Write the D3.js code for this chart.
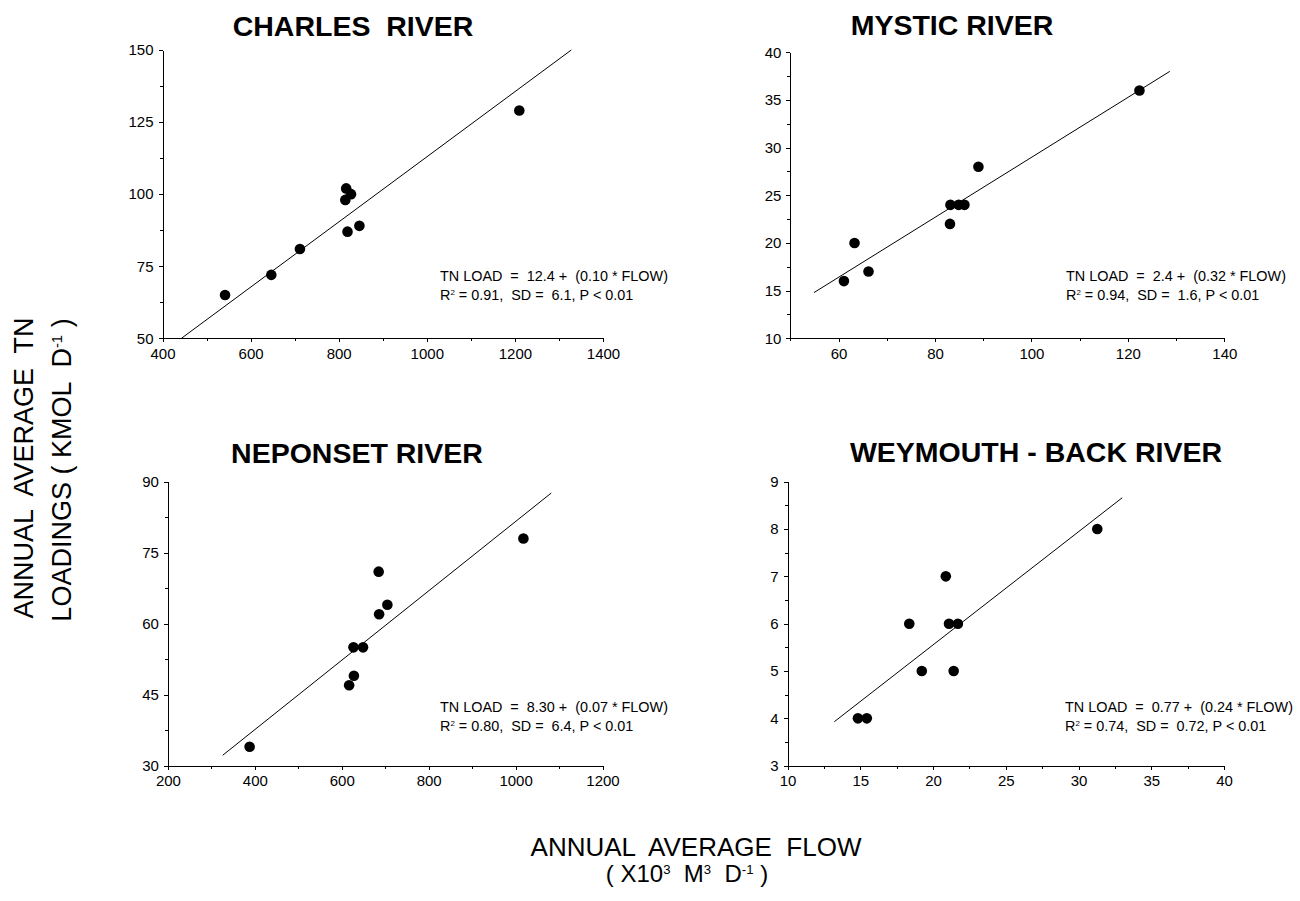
<!DOCTYPE html>
<html>
<head>
<meta charset="utf-8">
<script src="https://cdn.jsdelivr.net/npm/d3@7"></script>
<style>
  body { margin: 0; background: #fff; }
  svg text { font-family: "Liberation Sans", Arial, sans-serif; fill: #000; white-space: pre; }
  .axis path, .axis line { stroke: #000; stroke-width: 1; shape-rendering: crispEdges; }
  .axis text { font-size: 15px; font-family: "Liberation Sans", Arial, sans-serif; }
</style>
</head>
<body>
<script>
// ---- data ----
var charlesFlow = [542, 647, 712, 817, 815, 828, 820, 847, 1210];
var charlesLoad = [65, 72, 81, 102, 98, 100, 87, 89, 129];
var charlesFitFlow = [443, 1328];
var charlesFitLoad = [50, 150];
var charlesXTicks = [400, 600, 800, 1000, 1200, 1400];
var charlesYTicks = [50, 75, 100, 125, 150];

var mysticFlow = [61.1, 63.3, 66.2, 83.1, 83.2, 84.9, 86.1, 89.0, 122.4];
var mysticLoad = [16, 20, 17, 22, 24, 24, 24, 28, 36];
var mysticFitFlow = [54.9, 128.7];
var mysticFitLoad = [14.8, 38.0];
var mysticXTicks = [60, 80, 100, 120, 140];
var mysticYTicks = [10, 15, 20, 25, 30, 35, 40];

var neponsetFlow = [388, 617, 628, 627, 649, 686, 705, 685, 1018];
var neponsetLoad = [34, 47, 49, 55, 55, 62, 64, 71, 78];
var neponsetFitFlow = [326, 1082];
var neponsetFitLoad = [32.2, 87.6];
var neponsetXTicks = [200, 400, 600, 800, 1000, 1200];
var neponsetYTicks = [30, 45, 60, 75, 90];

var weymouthFlow = [14.84, 15.45, 18.37, 19.23, 20.88, 21.10, 21.71, 21.42, 31.29];
var weymouthLoad = [4, 4, 6, 5, 7, 6, 6, 5, 8];
var weymouthFitFlow = [13.22, 33.0];
var weymouthFitLoad = [3.93, 8.66];
var weymouthXTicks = [10, 15, 20, 25, 30, 35, 40];
var weymouthYTicks = [3, 4, 5, 6, 7, 8, 9];

var titles = ["CHARLES  RIVER", "MYSTIC RIVER", "NEPONSET RIVER", "WEYMOUTH - BACK RIVER"];
var eqLines = ["TN LOAD  =  12.4 +  (0.10 * FLOW)", "TN LOAD  =  2.4 +  (0.32 * FLOW)",
               "TN LOAD  =  8.30 +  (0.07 * FLOW)", "TN LOAD  =  0.77 +  (0.24 * FLOW)"];
var statLines = [" = 0.91,  SD =  6.1, P < 0.01", " = 0.94,  SD =  1.6, P < 0.01",
                 " = 0.80,  SD =  6.4, P < 0.01", " = 0.74,  SD =  0.72, P < 0.01"];

// panels, with their box on the page
var panels = [
  {flow: charlesFlow, load: charlesLoad, fitX: charlesFitFlow, fitY: charlesFitLoad,
   xt: charlesXTicks, yt: charlesYTicks, xmin: 400, x0: 162.5, x1: 603, y0: 50, y1: 338.3,
   tx: 353, ty: 36, ax: 440, ay: 281},
  {flow: mysticFlow, load: mysticLoad, fitX: mysticFitFlow, fitY: mysticFitLoad,
   xt: mysticXTicks, yt: mysticYTicks, xmin: 50, x0: 790.4, x1: 1224.3, y0: 52.3, y1: 338.3,
   tx: 952, ty: 35, ax: 1066, ay: 281},
  {flow: neponsetFlow, load: neponsetLoad, fitX: neponsetFitFlow, fitY: neponsetFitLoad,
   xt: neponsetXTicks, yt: neponsetYTicks, xmin: 200, x0: 167.9, x1: 602.5, y0: 481.7, y1: 765.7,
   tx: 357, ty: 463, ax: 440, ay: 712},
  {flow: weymouthFlow, load: weymouthLoad, fitX: weymouthFitFlow, fitY: weymouthFitLoad,
   xt: weymouthXTicks, yt: weymouthYTicks, xmin: 10, x0: 787.5, x1: 1224, y0: 481.7, y1: 765.7,
   tx: 1036, ty: 462, ax: 1065, ay: 712}
];

var svg = d3.select("body").append("svg")
    .attr("width", 1300)
    .attr("height", 901);

// midpoints between major ticks -> minor ticks
function minors(t) {
  var m = [];
  for (var i = 0; i < t.length - 1; i++) m.push((t[i] + t[i + 1]) / 2);
  return m;
}

// text with superscripts: parts = [[str, isSup], ...]
function richText(g, parts, size) {
  var up = false, lift = size * 0.34;
  parts.forEach(function(p) {
    var ts = g.append("tspan").text(p[0]);
    if (p[1]) {
      ts.attr("font-size", size * 0.55).attr("dy", -lift);
      up = true;
    } else {
      ts.attr("font-size", size);
      if (up) { ts.attr("dy", lift); up = false; }
    }
  });
}

panels.forEach(function(p, i) {
  var xd = [p.xmin, p.xt[p.xt.length - 1]];
  var x = d3.scaleLinear().domain(xd).range([p.x0, p.x1]);
  var y = d3.scaleLinear().domain([p.yt[0], p.yt[p.yt.length - 1]]).range([p.y1, p.y0]);

  // minor ticks
  var xMinor = minors(p.xt);
  if (p.xmin < p.xt[0]) xMinor.unshift(p.xmin);
  svg.append("g").attr("class", "axis")
      .attr("transform", "translate(0," + p.y1 + ")")
      .call(d3.axisBottom(x).tickValues(xMinor).tickSize(3).tickSizeOuter(0).tickFormat(""));
  svg.append("g").attr("class", "axis")
      .attr("transform", "translate(" + p.x0 + ",0)")
      .call(d3.axisLeft(y).tickValues(minors(p.yt)).tickSize(3).tickSizeOuter(0).tickFormat(""));

  // major ticks
  svg.append("g").attr("class", "axis")
      .attr("transform", "translate(0," + p.y1 + ")")
      .call(d3.axisBottom(x).tickValues(p.xt).tickSize(4).tickPadding(6).tickSizeOuter(0)
              .tickFormat(d3.format("d")));
  svg.append("g").attr("class", "axis")
      .attr("transform", "translate(" + p.x0 + ",0)")
      .call(d3.axisLeft(y).tickValues(p.yt).tickSize(4).tickPadding(5).tickSizeOuter(0)
              .tickFormat(d3.format("d")));

  // fit line
  svg.append("line")
      .attr("x1", x(p.fitX[0])).attr("y1", y(p.fitY[0]))
      .attr("x2", x(p.fitX[1])).attr("y2", y(p.fitY[1]))
      .attr("stroke", "#000").attr("stroke-width", 1);

  // points
  svg.selectAll(null)
    .data(p.flow.map(function(f, k) { return [f, p.load[k]]; }))
    .enter().append("circle")
      .attr("cx", function(d) { return x(d[0]); })
      .attr("cy", function(d) { return y(d[1]); })
      .attr("r", 5.3)
      .attr("fill", "#000");

  // title
  svg.append("text")
      .attr("x", p.tx).attr("y", p.ty)
      .attr("text-anchor", "middle")
      .attr("font-size", 28.5)
      .attr("font-weight", "bold")
      .text(titles[i]);

  // equation text
  svg.append("text")
      .attr("x", p.ax).attr("y", p.ay)
      .attr("font-size", 14.4)
      .text(eqLines[i]);
  var st = svg.append("text")
      .attr("x", p.ax).attr("y", p.ay + 19);
  richText(st, [["R", false], ["2", true], [statLines[i], false]], 14.4);
});

// axis titles
var xt1 = svg.append("text").attr("x", 696).attr("y", 856).attr("text-anchor", "middle");
richText(xt1, [["ANNUAL  AVERAGE  FLOW", false]], 26);
var xt2 = svg.append("text").attr("x", 687).attr("y", 882).attr("text-anchor", "middle");
richText(xt2, [["( X10", false], ["3", true], ["  M", false], ["3", true], ["  D", false], ["-1", true], [" )", false]], 24);

var yt1 = svg.append("text").attr("transform", "translate(33,468) rotate(-90)").attr("text-anchor", "middle");
richText(yt1, [["ANNUAL  AVERAGE  TN", false]], 27);
var yt2 = svg.append("text").attr("transform", "translate(71,470) rotate(-90)").attr("text-anchor", "middle");
richText(yt2, [["LOADINGS ( KMOL  D", false], ["-1", true], [" )", false]], 27);
</script>
</body>
</html>
